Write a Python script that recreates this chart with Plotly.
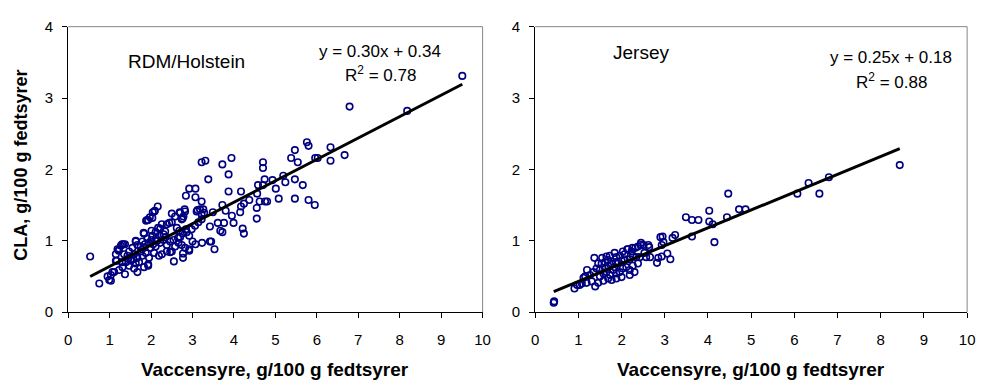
import plotly.graph_objects as go

# ---------------- data ----------------
rdm_points = [
    (9.51, 3.31), (6.79, 2.88), (8.18, 2.82), (5.76, 2.38), (5.80, 2.33), (5.47, 2.27), (6.33, 2.31),
    (5.38, 2.16), (5.54, 2.10), (5.96, 2.16), (6.02, 2.16), (6.33, 2.12), (6.67, 2.20), (3.94, 2.16),
    (3.72, 2.07), (3.22, 2.10), (3.31, 2.12), (3.87, 1.93), (4.70, 2.10), (4.70, 2.02), (3.38, 1.86),
    (5.19, 1.91), (5.24, 1.82), (4.93, 1.85), (4.74, 1.86), (4.58, 1.78), (4.70, 1.78), (5.01, 1.73),
    (5.47, 1.86), (5.66, 1.78), (4.56, 1.66), (4.37, 1.57), (4.17, 1.69), (3.87, 1.69), (5.08, 1.59),
    (5.47, 1.59), (5.80, 1.57), (5.95, 1.50), (4.62, 1.55), (4.75, 1.55), (4.80, 1.55), (4.55, 1.46),
    (4.24, 1.52), (4.17, 1.48), (4.15, 1.40), (3.72, 1.50), (3.49, 1.40), (3.80, 1.42), (3.95, 1.35),
    (3.99, 1.25), (3.76, 1.25), (3.61, 1.25), (3.72, 1.12), (3.67, 1.14), (3.42, 1.20), (4.21, 1.17),
    (4.24, 1.10), (4.55, 1.31), (3.42, 0.99), (3.45, 0.99), (3.53, 0.88), (3.23, 0.97), (3.07, 0.95),
    (3.00, 0.99), (2.92, 0.86), (2.77, 0.82), (2.77, 0.76), (2.55, 0.71), (3.22, 1.55), (3.07, 1.61),
    (2.92, 1.73), (3.07, 1.73), (2.84, 1.63), (2.16, 1.48), (2.09, 1.42), (2.04, 1.40), (1.97, 1.33),
    (1.90, 1.29), (2.50, 1.38), (2.69, 1.40), (2.81, 1.44), (3.12, 1.43), (3.18, 1.44), (3.26, 1.44),
    (2.76, 1.31), (1.82, 1.11), (2.01, 1.14), (2.17, 1.18), (1.63, 0.99), (1.30, 0.95), (1.37, 0.95),
    (1.22, 0.86), (0.53, 0.78), (0.75, 0.40), (1.03, 0.44), (0.95, 0.50), (1.07, 0.56), (1.37, 0.53),
    (1.67, 0.56), (1.17, 0.72), (1.93, 0.65), (2.19, 0.79), (2.46, 0.84),
    (1.83, 1.10), (2.34, 1.13), (2.44, 1.25), (2.50, 1.26), (2.38, 1.23), (2.62, 1.18), (2.68, 1.14),
    (2.65, 1.04), (2.76, 1.10), (2.86, 1.12), (2.92, 1.07), (2.98, 1.16), (3.06, 1.21), (3.14, 1.26),
    (3.22, 1.30), (3.10, 1.41), (3.22, 1.37), (3.28, 1.39), (2.74, 1.30), (2.78, 1.34), (2.82, 1.41),
    (2.70, 1.39), (2.58, 1.34), (2.26, 1.23), (2.22, 1.17), (2.11, 1.12), (2.03, 1.07), (1.91, 1.03),
    (1.95, 0.97), (1.79, 0.99), (1.67, 0.94), (1.63, 1.00), (1.55, 0.90), (1.47, 0.85), (1.43, 0.79),
    (1.35, 0.81), (1.59, 0.81), (1.67, 0.76), (1.71, 0.70), (1.79, 0.79), (1.87, 0.83), (1.99, 0.90),
    (2.11, 0.92), (2.22, 0.97), (2.30, 1.01), (2.38, 0.94), (2.46, 0.99), (2.54, 1.01), (2.58, 0.92),
    (2.66, 0.97), (2.74, 0.94), (2.50, 0.85), (2.38, 0.85), (2.26, 0.81), (2.07, 0.83), (1.95, 0.76),
    (1.93, 0.67), (1.83, 0.63), (1.59, 0.61), (1.47, 0.65), (1.39, 0.70), (1.31, 0.63), (1.23, 0.59),
    (1.15, 0.72), (1.11, 0.56), (1.03, 0.52), (0.99, 0.45), (1.51, 0.72), (1.57, 0.74), (1.63, 0.68),
    (1.75, 0.85), (1.83, 0.90), (2.01, 1.01), (2.12, 1.03), (2.20, 1.07), (2.30, 1.09), (1.88, 1.28),
    (1.93, 1.29), (2.03, 1.32), (2.08, 1.41), (1.33, 0.95), (1.19, 0.88), (1.27, 0.93), (1.30, 0.70),
    (1.22, 0.87), (1.15, 0.81), (2.70, 1.05), (2.84, 1.16), (2.82, 0.90), (2.92, 0.88),
    (1.45, 0.75), (1.75, 0.92), (1.85, 0.95), (2.05, 0.95), (2.15, 1.00), (2.35, 1.05),
]

jersey_points = [
    (8.44, 2.06), (6.80, 1.89), (6.33, 1.81), (6.07, 1.66), (6.58, 1.66), (4.47, 1.66), (4.03, 1.42),
    (4.72, 1.44), (4.87, 1.44), (4.44, 1.33), (3.49, 1.33), (3.63, 1.29), (3.78, 1.29), (4.03, 1.27),
    (4.11, 1.23), (4.15, 0.98), (3.63, 1.06), (3.24, 1.08), (3.18, 1.04), (2.95, 1.06), (2.97, 0.98),
    (2.93, 0.94), (3.06, 0.82), (3.13, 0.74), (2.85, 0.76), (2.82, 0.69), (2.93, 0.78), (2.66, 0.77),
    (2.62, 0.94), (2.51, 0.94), (2.44, 0.94), (2.32, 0.90), (2.25, 0.90), (2.13, 0.88), (2.03, 0.85),
    (1.37, 0.76), (1.55, 0.76), (1.65, 0.78), (1.84, 0.83), (1.20, 0.59), (1.12, 0.48), (0.91, 0.33),
    (1.03, 0.38), (1.08, 0.40), (0.43, 0.13), (0.44, 0.15), (0.97, 0.38), (1.16, 0.50),
    (2.64, 0.91), (2.38, 0.92), (2.23, 0.85), (2.07, 0.81), (1.96, 0.79), (1.88, 0.77), (1.73, 0.79),
    (1.46, 0.68), (1.54, 0.68), (1.62, 0.70), (1.69, 0.65), (1.77, 0.68), (1.84, 0.63), (1.92, 0.68),
    (2.00, 0.72), (2.07, 0.74), (2.19, 0.74), (2.26, 0.79), (2.34, 0.77), (2.11, 0.63), (2.19, 0.59),
    (2.26, 0.65), (2.38, 0.68), (2.42, 0.77), (2.53, 0.83), (2.57, 0.77), (1.27, 0.52), (1.35, 0.56),
    (1.42, 0.61), (1.50, 0.59), (1.58, 0.54), (1.65, 0.56), (1.73, 0.52), (1.81, 0.59), (1.88, 0.54),
    (1.96, 0.56), (2.03, 0.61), (1.77, 0.45), (1.58, 0.44), (1.39, 0.36), (1.31, 0.43), (1.46, 0.41),
    (1.19, 0.41), (1.69, 0.47), (2.00, 0.49), (2.19, 0.52), (2.30, 0.56), (1.88, 0.47), (1.50, 0.50),
    (1.62, 0.61), (1.87, 0.70), (1.69, 0.73), (2.15, 0.88), (2.45, 0.97), (2.90, 1.05),
]

rdm_slope, rdm_intercept, rdm_r2 = 0.30, 0.34, 0.78
jersey_slope, jersey_intercept, jersey_r2 = 0.25, 0.18, 0.88

panel_labels = ["RDM/Holstein", "Jersey"]
x_title = "Vaccensyre, g/100 g fedtsyrer"
y_title = "CLA, g/100 g fedtsyrer"
x_ticks = list(range(0, 11))
y_ticks = list(range(0, 5))

# ---------------- figure ----------------
W, H = 986, 387
FONT = "Liberation Sans, Arial, sans-serif"
NAVY = "#000080"

fig = go.Figure()

def add_panel(points, slope, intercept, xa, ya):
    xs = [p[0] for p in points]
    ys = [p[1] for p in points]
    fig.add_trace(go.Scatter(
        x=xs, y=ys, mode="markers", xaxis=xa, yaxis=ya, showlegend=False,
        marker=dict(symbol="circle-open", size=6.5, color=NAVY, line=dict(width=1.6, color=NAVY)),
        cliponaxis=False,
    ))
    x0, x1 = min(xs), max(xs)
    fig.add_trace(go.Scatter(
        x=[x0, x1], y=[slope * x0 + intercept, slope * x1 + intercept],
        mode="lines", xaxis=xa, yaxis=ya, showlegend=False,
        line=dict(color="black", width=3),
    ))

add_panel(rdm_points, rdm_slope, rdm_intercept, "x", "y")
add_panel(jersey_points, jersey_slope, jersey_intercept, "x2", "y2")

def px2paper(px, py):
    return px / W, 1 - py / H

ydom = [(H - 317) / H, (H - 18.5) / H]
common_x = dict(range=[0, 10], tickvals=x_ticks, ticks="outside", ticklen=5, tickcolor="black",
                showline=True, linecolor="black", linewidth=1, showgrid=False, zeroline=False,
                tickfont=dict(family=FONT, size=15, color="black"), ticklabelstandoff=9, fixedrange=True)
common_y = dict(range=[0, 4], tickvals=y_ticks, ticks="outside", ticklen=5, tickcolor="black",
                showline=True, linecolor="black", linewidth=1, showgrid=False, zeroline=False,
                tickfont=dict(family=FONT, size=15, color="black"), ticklabelstandoff=6, fixedrange=True)

fig.update_layout(
    width=W, height=H, margin=dict(l=0, r=0, t=0, b=0),
    paper_bgcolor="white", plot_bgcolor="white",
    xaxis=dict(domain=[65 / W, 484.5 / W], anchor="y", **common_x),
    yaxis=dict(domain=ydom, anchor="x", **common_y),
    xaxis2=dict(domain=[537.7 / W, 975 / W], anchor="y2", **common_x),
    yaxis2=dict(domain=ydom, anchor="x2", **common_y),
)

# gray frame on top and right of each plot area
for xr, yr in [("x domain", "y domain"), ("x2 domain", "y2 domain")]:
    fig.add_shape(type="line", xref=xr, yref=yr, x0=0, x1=1, y0=1, y1=1,
                  line=dict(color="#868686", width=1))
    fig.add_shape(type="line", xref=xr, yref=yr, x0=1, x1=1, y0=0, y1=1,
                  line=dict(color="#868686", width=1))

def ann(text, px, py, size, bold=False, angle=0):
    x, y = px2paper(px, py)
    fig.add_annotation(text=f"<b>{text}</b>" if bold else text, x=x, y=y, xref="paper", yref="paper",
                       xanchor="center", yanchor="middle", showarrow=False, textangle=angle,
                       font=dict(family=FONT, size=size, color="black"))

# panel labels
ann(panel_labels[0], 185, 55, 19)
ann(panel_labels[1], 645, 45, 19)
# equations
ann(f"y = {rdm_slope:.2f}x + {rdm_intercept:.2f}", 381, 44, 17)
ann(f"R<sup>2</sup> = {rdm_r2:.2f}", 381, 68, 17)
ann(f"y = {jersey_slope:.2f}x + {jersey_intercept:.2f}", 898, 51, 17)
ann(f"R<sup>2</sup> = {jersey_r2:.2f}", 898, 75, 17)
# axis titles
ann(x_title, 274.5, 377, 19, bold=True)
ann(x_title, 756, 377, 19, bold=True)
ann(y_title, 17, 163, 18, bold=True, angle=-90)

fig.write_html("out.html")
